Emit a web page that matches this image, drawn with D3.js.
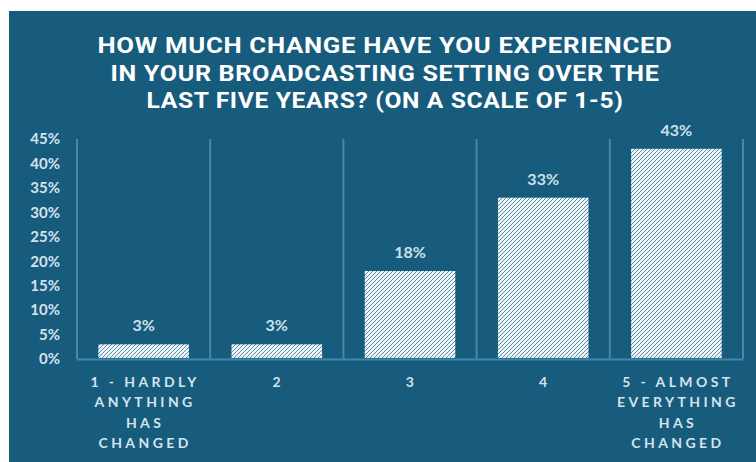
<!DOCTYPE html>
<html>
<head>
<meta charset="utf-8">
<script src="https://cdn.jsdelivr.net/npm/d3@7"></script>
<style>
  html, body { margin: 0; padding: 0; background: #ffffff; }
  svg { display: block; }
</style>
</head>
<body>
<svg id="chart" width="756" height="462"></svg>
<script>
// Survey responses: amount of change experienced, scale 1-5
const categories = [
  ["1 - HARDLY", "ANYTHING", "HAS", "CHANGED"],
  ["2"],
  ["3"],
  ["4"],
  ["5 - ALMOST", "EVERYTHING", "HAS", "CHANGED"]
];
const values = [3, 3, 18, 33, 43];
const yTicks = [0, 5, 10, 15, 20, 25, 30, 35, 40, 45];
const titleLines = [
  "HOW MUCH CHANGE HAVE YOU EXPERIENCED",
  "IN YOUR BROADCASTING SETTING OVER THE",
  "LAST FIVE YEARS? (ON A SCALE OF 1-5)"
];

const svg = d3.select("#chart");
const bg = "#175b7d";

// Background panel
svg.append("rect")
  .attr("x", 9).attr("y", 11)
  .attr("width", 747).attr("height", 451)
  .attr("fill", bg);

// Hatched fill for bars
const defs = svg.append("defs");
const pat = defs.append("pattern")
  .attr("id", "hatch")
  .attr("patternUnits", "userSpaceOnUse")
  .attr("width", 4).attr("height", 4);
pat.append("rect").attr("width", 4).attr("height", 4).attr("fill", "#f0f5f8");
pat.append("path")
  .attr("d", "M-1,1 l2,-2 M0,4 l4,-4 M3,5 l2,-2")
  .attr("stroke", "#5a8fa9")
  .attr("stroke-width", 1);

// Title: bold caps, set narrow to fill each line's width
const titleWidths = [575, 549, 477];
const titleY = [53, 81, 108];
svg.append("g").selectAll("text")
  .data(titleLines)
  .join("text")
  .attr("x", 385)
  .attr("y", (d, i) => titleY[i])
  .attr("text-anchor", "middle")
  .attr("fill", "#ffffff")
  .attr("font-family", "Roboto, 'DejaVu Sans Condensed', sans-serif")
  .attr("font-weight", "bold")
  .attr("font-size", 22.5)
  .attr("letter-spacing", 0.6)
  .attr("textLength", (d, i) => titleWidths[i])
  .attr("lengthAdjust", "spacingAndGlyphs")
  .text(d => d);

// Scales
const x = d3.scaleBand()
  .domain(d3.range(categories.length))
  .range([77, 743])
  .paddingInner(0.32)
  .paddingOuter(0.16);

const y = d3.scaleLinear()
  .domain([0, 45])
  .range([359, 139]);

// Category separators
const step = x.step();
const seps = d3.range(categories.length + 1).map(i => x.range()[0] + i * step);
svg.append("g").selectAll("line")
  .data(seps)
  .join("line")
  .attr("x1", d => d).attr("x2", d => d)
  .attr("y1", y(45)).attr("y2", y(0))
  .attr("stroke", "#4d86a3")
  .attr("stroke-width", 2);

// Y axis
const yAxis = d3.axisLeft(y)
  .tickValues(yTicks)
  .tickSize(0)
  .tickPadding(17)
  .tickFormat(d => d + "%");
const gy = svg.append("g")
  .attr("transform", "translate(77,0)")
  .call(yAxis);
gy.select(".domain").remove();
gy.selectAll("text")
  .attr("fill", "#d4e3ec")
  .attr("font-family", "Lato, 'Open Sans', sans-serif")
  .attr("font-weight", "bold")
  .attr("font-size", 15);

// Bars
svg.append("g").selectAll("rect")
  .data(values)
  .join("rect")
  .attr("x", (d, i) => x(i))
  .attr("y", d => y(d))
  .attr("width", x.bandwidth())
  .attr("height", d => y(0) - y(d) - 1)
  .attr("fill", "url(#hatch)");

// Baseline
svg.append("line")
  .attr("x1", 77).attr("x2", 743)
  .attr("y1", y(0) + 0.5).attr("y2", y(0) + 0.5)
  .attr("stroke", "#3f88b2")
  .attr("stroke-width", 2);

// Value labels
svg.append("g").selectAll("text")
  .data(values)
  .join("text")
  .attr("x", (d, i) => x(i) + x.bandwidth() / 2)
  .attr("y", d => y(d) - 13)
  .attr("text-anchor", "middle")
  .attr("fill", "#cfe0ea")
  .attr("font-family", "Lato, 'Open Sans', sans-serif")
  .attr("font-weight", "bold")
  .attr("font-size", 16)
  .text(d => d + "%");

// Category labels
const labelY = [386.5, 407, 427.5, 448];
const cat = svg.append("g").selectAll("g")
  .data(categories)
  .join("g")
  .attr("transform", (d, i) => `translate(${x(i) + x.bandwidth() / 2},0)`);
cat.selectAll("text")
  .data(d => d)
  .join("text")
  .attr("x", 1.5)
  .attr("y", (d, j) => labelY[j])
  .attr("text-anchor", "middle")
  .attr("fill", "#d4e3ec")
  .attr("font-family", "Lato, 'Open Sans', sans-serif")
  .attr("font-weight", "bold")
  .attr("font-size", 14)
  .attr("letter-spacing", 3.4)
  .text(d => d);
</script>
</body>
</html>
